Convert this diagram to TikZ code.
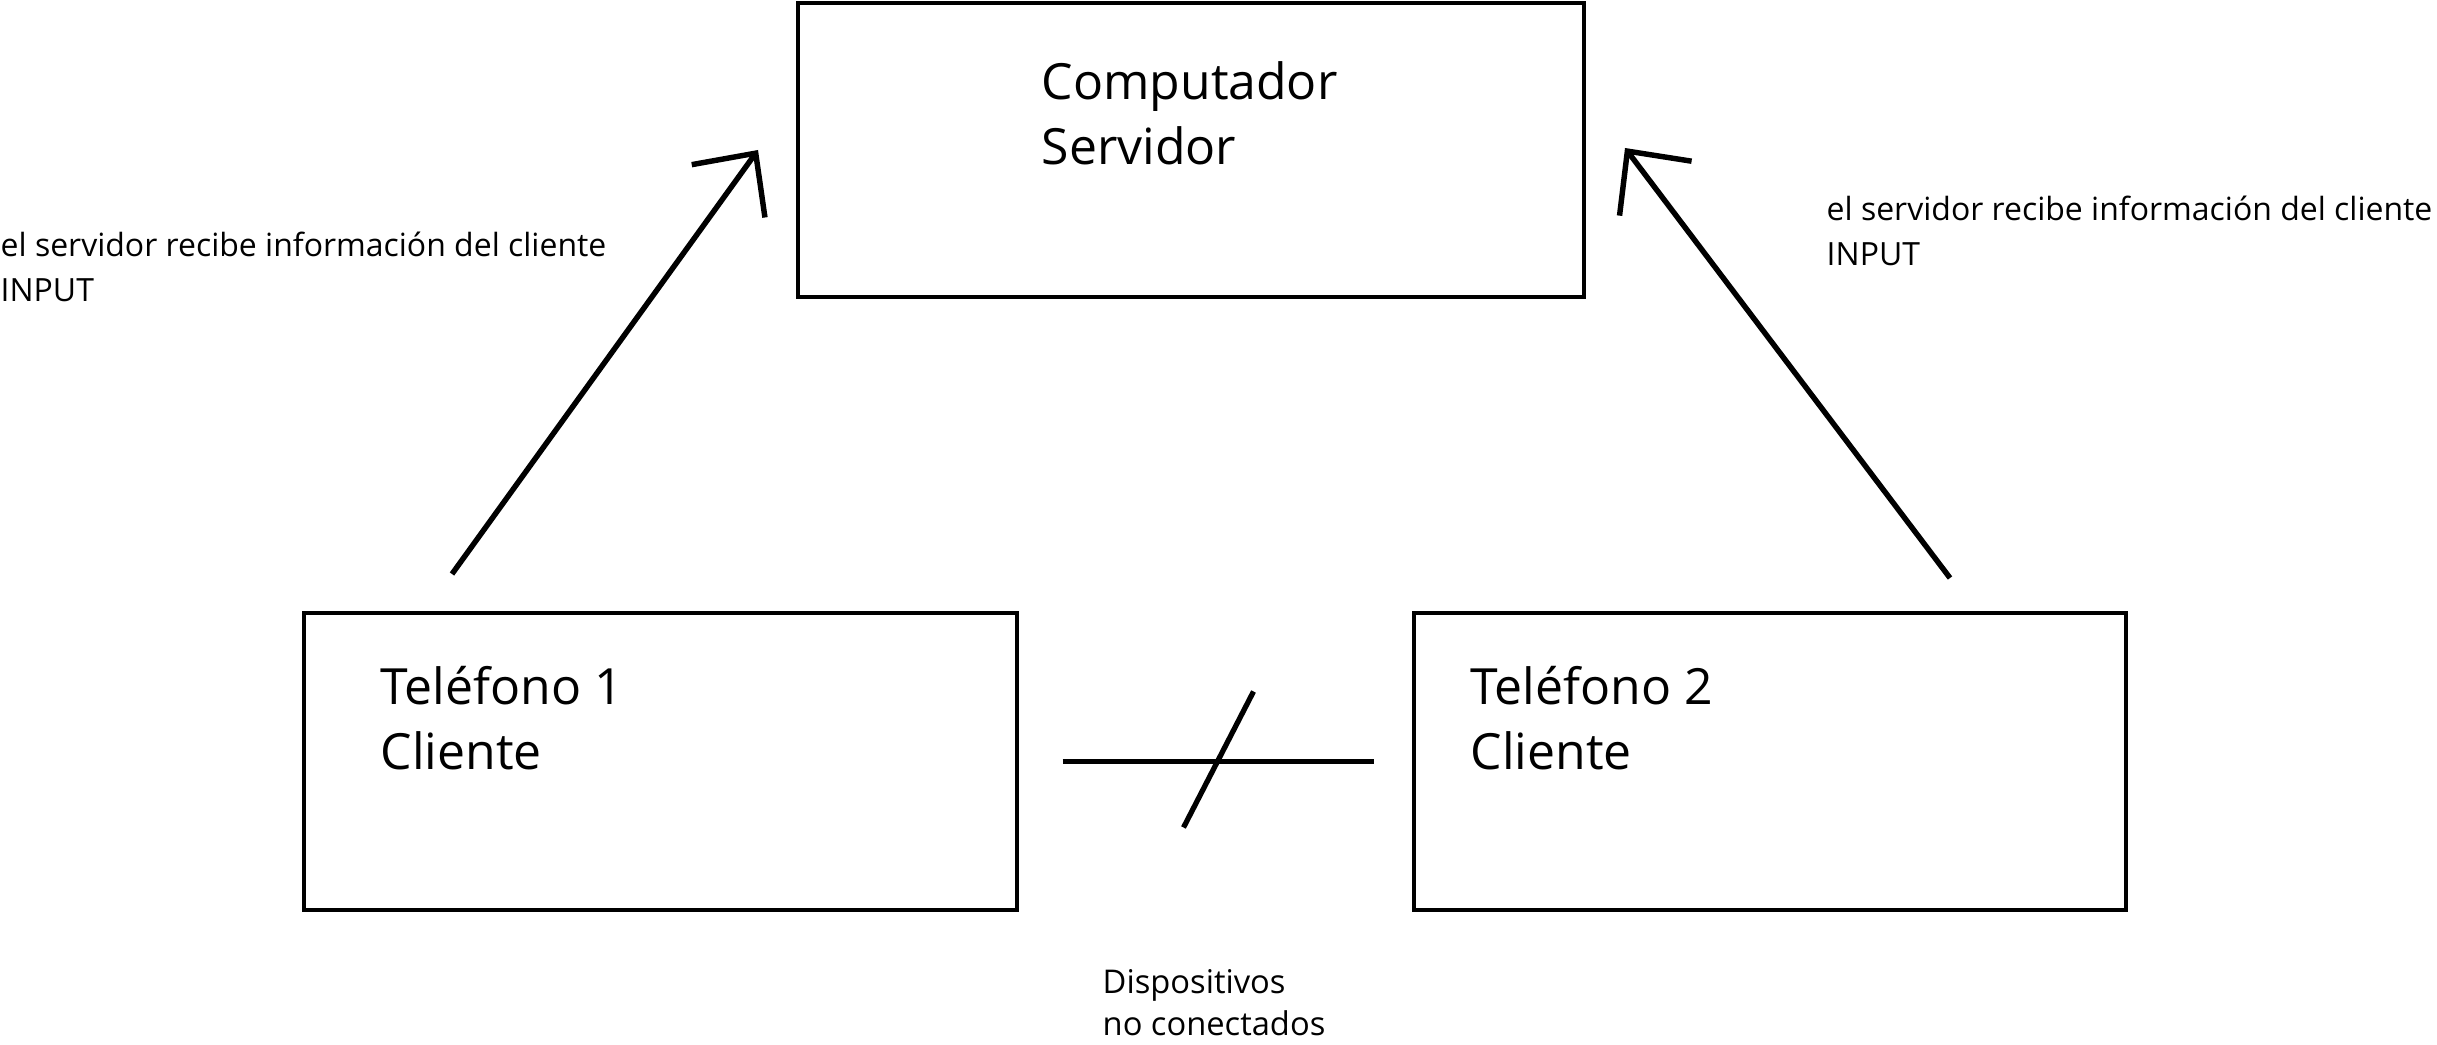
\documentclass[tikz,border=0pt]{standalone}
\usepackage{fontspec}
\setmainfont{Open Sans}
\usetikzlibrary{arrows.meta,calc}

\begin{document}
\begin{tikzpicture}[x=0.1mm, y=-0.1mm,
  caja/.style={draw, line width=0.9pt, inner sep=0pt, minimum height=29.7mm},
  grande/.style={anchor=base west, inner sep=0pt, align=left, font={\fontsize{14.2}{18.6}\selectfont}},
  nota/.style={anchor=base west, inner sep=0pt, align=left, font={\fontsize{9.1}{13}\selectfont}},
  flecha/.style={line width=1.55pt, -{Straight Barb[angle=88:6.5mm]}},
  linea/.style={line width=1.5pt}]
\useasboundingbox (0,0) rectangle (2437,1045);
%Cajas
\node[caja, minimum width=78.6mm, minimum height=29.4mm] (srv) at (1191,150) {};
\node[caja, minimum width=71.3mm] (tel1) at (660.5,761.5) {};
\node[caja, minimum width=71.2mm] (tel2) at (1770,761.5) {};
%Textos
\node[grande] (srvtxt) at (1041,165) {Computador\\Servidor};
\node[grande] (tel1txt) at (380,770) {Teléfono 1\\Cliente};
\node[grande] (tel2txt) at (1470,770) {Teléfono 2\\Cliente};
\node[nota] (in1) at (0,302) {el servidor recibe información del cliente\\INPUT};
\node[nota] (in2) at (1826,266) {el servidor recibe información del cliente\\INPUT};
\node[nota, font={\fontsize{9.3}{11.8}\selectfont}] (disp) at (1102,1035) {Dispositivos\\no conectados};
%Flechas
\path (452,574) coordinate(t1) (758,150) coordinate(s1)
(1950,578) coordinate(t2) (1625,148) coordinate(s2);
\draw[flecha] (t1) -- (s1);
\draw[flecha] (t2) -- (s2);
%No conectados
\draw[linea] ([xshift=4.4mm]tel1.east) coordinate(c1) -- ([xshift=-3.8mm]tel2.west) coordinate(c2);
\draw[linea] ($(c1)!0.5!(c2)+(35,-70)$) coordinate(b1) -- ($(c1)!0.5!(c2)+(-35,66)$) coordinate(b2);
\end{tikzpicture}
\end{document}
